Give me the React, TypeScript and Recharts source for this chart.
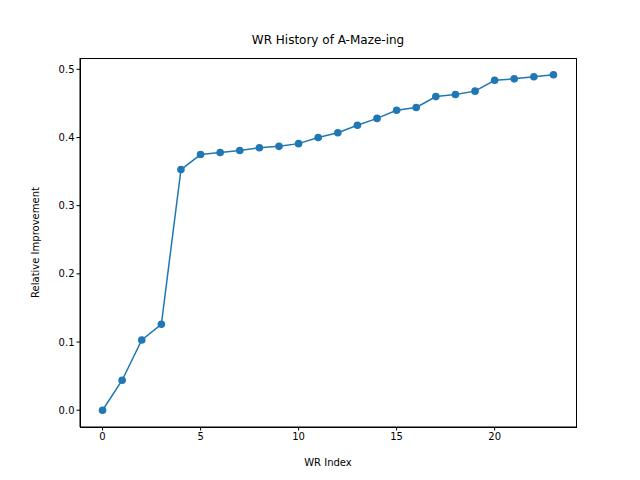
import React from "react";
import { LineChart, Line, XAxis, YAxis } from "recharts";

const indices = Array.from({ length: 24 }, (_, i) => i);
const improvements = [0, 0.044, 0.103, 0.126, 0.353, 0.375, 0.378, 0.381, 0.385, 0.387, 0.391, 0.4, 0.407, 0.418, 0.428, 0.44, 0.444, 0.46, 0.463, 0.468, 0.484, 0.486, 0.489, 0.492];
const xTicks = [0, 5, 10, 15, 20];
const yTicks = [0, 0.1, 0.2, 0.3, 0.4, 0.5];

const data = indices.map((x, i) => ({ x, y: improvements[i] }));
const font = "DejaVu Sans, sans-serif";
const tick = { fill: "#000", fontSize: 10, fontFamily: font };

export default function App() {
  return (
    <div style={{ position: "absolute", left: 0, top: 0, width: 640, height: 480, background: "#fff" }}>
      <div style={{ position: "absolute", left: 80, width: 496, top: 33, textAlign: "center", fontFamily: font, fontSize: 12 }}>
        WR History of A-Maze-ing
      </div>
      <div style={{ position: "absolute", left: 80, top: 58, width: 495, height: 368, border: "1px solid #000", pointerEvents: "none" }} />
      <LineChart width={640} height={480} data={data} margin={{ top: 58, right: 64, bottom: 0, left: 0 }}>
        <XAxis dataKey="x" type="number" domain={[-1.15, 24.15]} ticks={xTicks} height={53}
          tick={tick} tickSize={3.5} stroke="#000" tickLine={{ stroke: "#000" }}
          label={{ value: "WR Index", position: "insideBottom", offset: 14, fill: "#000", fontSize: 10, fontFamily: font }} />
        <YAxis type="number" domain={[-0.0246, 0.5166]} ticks={yTicks} width={80}
          tickFormatter={(v: number) => v.toFixed(1)}
          tick={tick} tickSize={3.5} stroke="#000" tickLine={{ stroke: "#000" }}
          label={{ value: "Relative Improvement", angle: -90, position: "insideLeft", offset: 35, fill: "#000", fontSize: 10, fontFamily: font, style: { textAnchor: "middle" } }} />
        <Line dataKey="y" stroke="#1f77b4" strokeWidth={1.5} isAnimationActive={false}
          dot={{ r: 3.8, fill: "#1f77b4", stroke: "#1f77b4", strokeWidth: 0 }} />
      </LineChart>
    </div>
  );
}
